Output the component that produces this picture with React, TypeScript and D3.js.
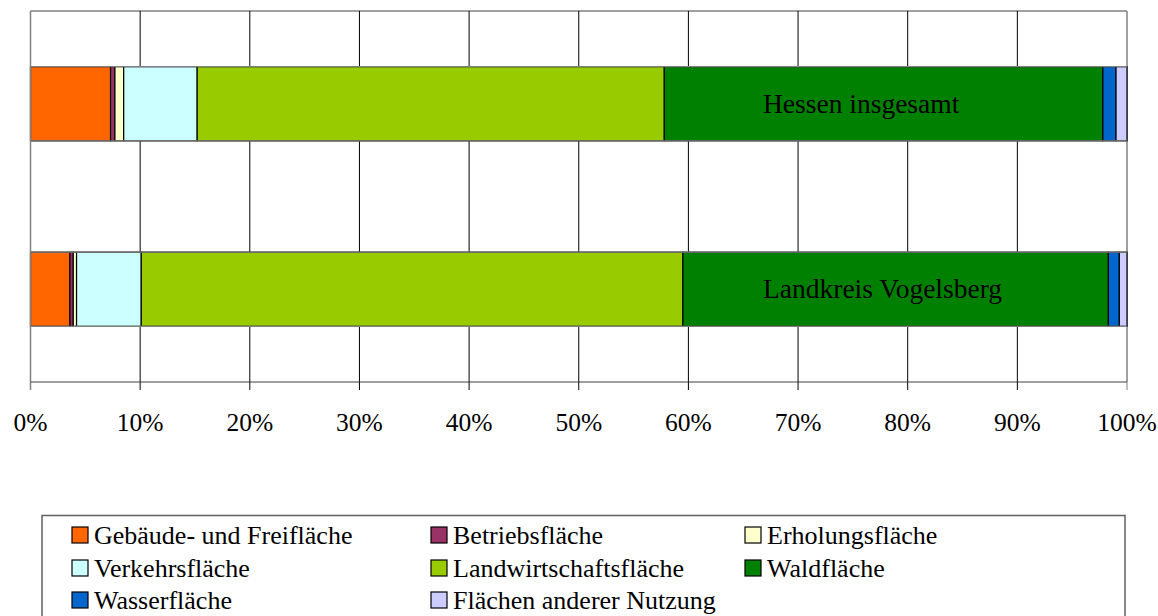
import React from "react";
import * as d3 from "d3";

const categories = ["Hessen insgesamt", "Landkreis Vogelsberg"];
const seriesNames = [
  "Gebäude- und Freifläche",
  "Betriebsfläche",
  "Erholungsfläche",
  "Verkehrsfläche",
  "Landwirtschaftsfläche",
  "Waldfläche",
  "Wasserfläche",
  "Flächen anderer Nutzung",
];
const seriesColors = ["#FF6600", "#993366", "#FFFFCC", "#CCFFFF", "#99CC00", "#008000", "#0066CC", "#CCCCFF"];
const hessenValues = [7.3, 0.4, 0.8, 6.7, 42.6, 40.0, 1.2, 1.0];
const vogelsbergValues = [3.6, 0.3, 0.3, 5.9, 49.4, 38.8, 1.0, 0.7];
const tickValues = [0, 10, 20, 30, 40, 50, 60, 70, 80, 90, 100];

const W = 1158;
const H = 616;
const plot = { left: 30.5, right: 1127, top: 11, bottom: 382 };
const FONT = "'Liberation Serif', 'Times New Roman', serif";

export default function App() {
  const values = [hessenValues, vogelsbergValues];
  const x = d3.scaleLinear().domain([0, 100]).range([plot.left, plot.right]);
  const y = d3.scaleBand<string>().domain(categories).range([plot.top, plot.bottom]).padding(0);
  const bw = y.bandwidth();
  const barH = bw * 0.4;

  const stacks = values.map((vals) => {
    const cum = d3.cumsum(vals);
    return vals.map((v, i) => ({ x0: cum[i] - v, x1: cum[i], i }));
  });

  const legendCols = [72, 431, 745];
  const legendRows = [535, 568, 600];

  return (
    <svg width={W} height={H} style={{ position: "absolute", left: 0, top: 0, background: "#fff" }} fontFamily={FONT}>
      {/* plot border */}
      <line x1={plot.left} x2={plot.right} y1={plot.top} y2={plot.top} stroke="#808080" strokeWidth={1.5} />
      <line x1={plot.right} x2={plot.right} y1={plot.top} y2={plot.bottom} stroke="#808080" strokeWidth={1.5} />
      {/* gridlines */}
      {tickValues.slice(1, -1).map((t) => (
        <line key={t} x1={x(t)} x2={x(t)} y1={plot.top} y2={plot.bottom} stroke="#000" strokeWidth={1} />
      ))}
      {/* bars */}
      {stacks.map((segs, ci) =>
        segs.map((s) => (
          <rect
            key={ci + "-" + s.i}
            x={x(s.x0)}
            y={(y(categories[ci]) as number) + bw * 0.3}
            width={x(s.x1) - x(s.x0)}
            height={barH}
            fill={seriesColors[s.i]}
            stroke="#000"
            strokeWidth={1.2}
          />
        ))
      )}
      {categories.map((c) => (
        <g key={"o" + c}>
          <line x1={plot.left} x2={plot.right} y1={(y(c) as number) + bw * 0.3} y2={(y(c) as number) + bw * 0.3} stroke="#808080" strokeWidth={1.2} />
          <line x1={plot.left} x2={plot.right} y1={(y(c) as number) + bw * 0.7} y2={(y(c) as number) + bw * 0.7} stroke="#808080" strokeWidth={1.2} />
        </g>
      ))}
      {/* data labels */}
      {categories.map((c, ci) => (
        <text key={"l" + c} x={763} y={(y(c) as number) + bw * 0.5 + 9} fontSize={27.5} fill="#000">
          {categories[ci]}
        </text>
      ))}
      {/* axes */}
      <line x1={plot.left} x2={plot.left} y1={plot.top} y2={plot.bottom + 8} stroke="#808080" strokeWidth={1.5} />
      <line x1={plot.left} x2={plot.right} y1={plot.bottom} y2={plot.bottom} stroke="#404040" strokeWidth={1.2} />
      {tickValues.map((t) => (
        <g key={"t" + t}>
          <line x1={x(t)} x2={x(t)} y1={plot.bottom} y2={plot.bottom + 8} stroke={t === 0 || t === 100 ? "#808080" : "#000"} strokeWidth={1} />
          <text x={x(t)} y={431} textAnchor="middle" fontSize={25.5} fill="#000">
            {t + "%"}
          </text>
        </g>
      ))}
      {/* legend */}
      <rect x={42} y={515.5} width={1083} height={120} fill="#fff" stroke="#606060" strokeWidth={1.5} />
      {seriesNames.map((n, i) => {
        const col = i % 3;
        const row = Math.floor(i / 3);
        const cx = legendCols[col];
        const cy = legendRows[row];
        return (
          <g key={"lg" + i}>
            <rect x={cx} y={cy - 8} width={16} height={16} fill={seriesColors[i]} stroke="#000" strokeWidth={1.2} />
            <text x={cx + 22} y={cy + 8.5} fontSize={26} fill="#000">
              {n}
            </text>
          </g>
        );
      })}
    </svg>
  );
}
